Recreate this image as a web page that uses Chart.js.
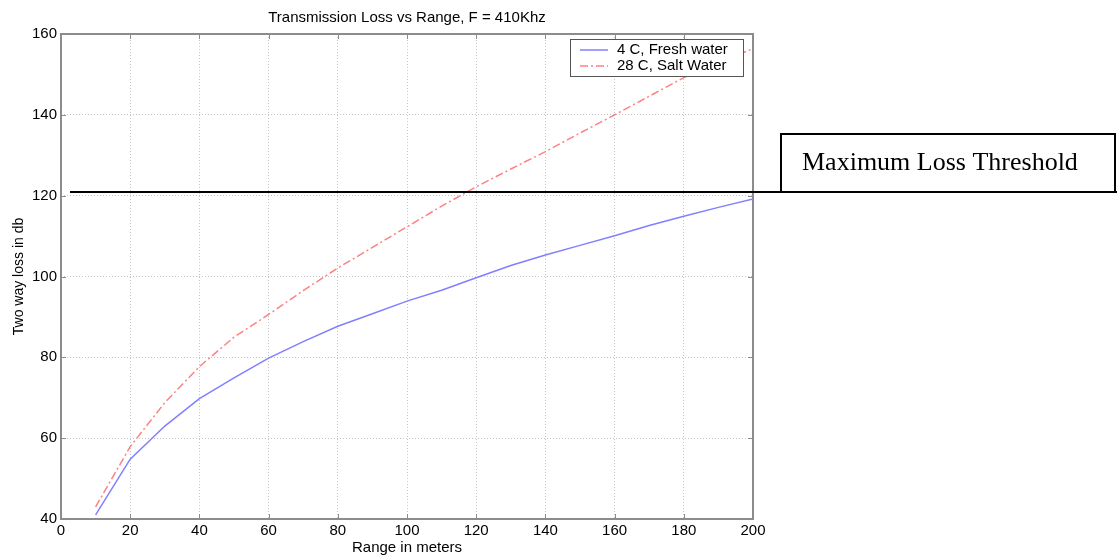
<!DOCTYPE html>
<html>
<head>
<meta charset="utf-8">
<script src="https://cdn.jsdelivr.net/npm/chart.js@4.4.1/dist/chart.umd.min.js"></script>
<style>
  html, body { margin: 0; padding: 0; background: #fff; }
  #wrap { width: 1117px; height: 557px; position: relative; }
</style>
</head>
<body>
<div id="wrap"><canvas id="lossChart"></canvas></div>
<script>
// range in meters
const ranges = [10, 20, 30, 40, 50, 60, 70, 80, 90, 100, 110, 120, 130, 140, 150, 160, 170, 180, 190, 200];
// two way loss (db)
const freshWater = [41.0, 54.8, 63.0, 69.8, 74.9, 79.8, 83.9, 87.7, 90.8, 93.9, 96.6, 99.7, 102.7, 105.3, 107.7, 110.1, 112.6, 114.9, 117.1, 119.2];
const saltWater = [43.0, 57.9, 68.8, 77.7, 85.0, 90.6, 96.5, 102.1, 107.2, 112.3, 117.4, 122.2, 126.6, 130.9, 135.5, 140.0, 144.6, 149.2, 152.8, 156.4];
const threshold = 121;
const thresholdLabel = 'Maximum Loss Threshold';

const font = 'Liberation Sans';
const ctx = document.getElementById('lossChart').getContext('2d');

function toPoints(values) {
    return ranges.map((r, i) => ({ x: r, y: values[i] }));
}

// plot frame + inward tick marks, matlab style
const frame = {
    id: 'frame',
    beforeDatasetsDraw(chart) {
        const { ctx, chartArea: a, scales } = chart;
        ctx.save();
        ctx.strokeStyle = '#8c8c8c';
        ctx.lineWidth = 1;
        scales.x.ticks.forEach(t => {
            const px = Math.round(scales.x.getPixelForValue(t.value)) + 0.5;
            ctx.beginPath();
            ctx.moveTo(px, a.bottom); ctx.lineTo(px, a.bottom - 5);
            ctx.moveTo(px, a.top); ctx.lineTo(px, a.top + 5);
            ctx.stroke();
        });
        scales.y.ticks.forEach(t => {
            const py = Math.round(scales.y.getPixelForValue(t.value)) + 0.5;
            ctx.beginPath();
            ctx.moveTo(a.left, py); ctx.lineTo(a.left + 5, py);
            ctx.moveTo(a.right, py); ctx.lineTo(a.right - 5, py);
            ctx.stroke();
        });
        ctx.lineWidth = 2;
        ctx.strokeRect(a.left, a.top, a.right - a.left, a.bottom - a.top);
        ctx.restore();
    }
};

const legendBox = {
    id: 'legendBox',
    afterDatasetsDraw(chart) {
        const { ctx, chartArea } = chart;
        const w = 173, h = 37;
        const x = chartArea.right - 10 - w;
        const y = chartArea.top + 5;
        ctx.save();
        ctx.fillStyle = '#fff';
        ctx.fillRect(x, y, w, h);
        ctx.strokeStyle = '#555';
        ctx.lineWidth = 1;
        ctx.strokeRect(x + 0.5, y + 0.5, w, h);
        ctx.font = '15px "' + font + '"';
        ctx.textBaseline = 'middle';
        chart.data.datasets.forEach((ds, i) => {
            const ly = y + 11 + i * 16;
            ctx.strokeStyle = ds.borderColor;
            ctx.lineWidth = ds.borderWidth;
            ctx.setLineDash(ds.borderDash || []);
            ctx.beginPath();
            ctx.moveTo(x + 10, ly);
            ctx.lineTo(x + 38, ly);
            ctx.stroke();
            ctx.setLineDash([]);
            ctx.fillStyle = '#000';
            ctx.fillText(ds.label, x + 47, ly);
        });
        ctx.restore();
    }
};

const thresholdLine = {
    id: 'thresholdLine',
    afterDraw(chart) {
        const { ctx, chartArea, scales } = chart;
        const ly = Math.round(scales.y.getPixelForValue(threshold));
        const bx = chartArea.right + 28;
        const bRight = chart.width - 2;
        ctx.save();
        ctx.strokeStyle = '#000';
        ctx.lineWidth = 2;
        ctx.beginPath();
        ctx.moveTo(chartArea.left + 9, ly);
        ctx.lineTo(chart.width, ly);
        ctx.stroke();
        ctx.beginPath();
        ctx.moveTo(bx, ly);
        ctx.lineTo(bx, ly - 58);
        ctx.lineTo(bRight, ly - 58);
        ctx.lineTo(bRight, ly);
        ctx.stroke();
        ctx.fillStyle = '#000';
        ctx.font = '26px "Liberation Serif"';
        ctx.textBaseline = 'alphabetic';
        ctx.fillText(thresholdLabel, bx + 21, ly - 22);
        ctx.restore();
    }
};

const myChart = new Chart(ctx, {
    type: 'line',
    data: {
        datasets: [{
            label: '4 C, Fresh water',
            data: toPoints(freshWater),
            borderColor: 'rgb(128,128,255)',
            borderWidth: 1.5,
            pointRadius: 0,
            tension: 0
        }, {
            label: '28 C, Salt Water',
            data: toPoints(saltWater),
            borderColor: 'rgb(255,128,128)',
            borderWidth: 1.5,
            borderDash: [8, 3, 2, 3],
            pointRadius: 0,
            tension: 0
        }]
    },
    options: {
        responsive: true,
        maintainAspectRatio: false,
        animation: false,
        layout: { padding: { top: 1, right: 364, bottom: 0, left: 0 } },
        plugins: {
            legend: { display: false },
            tooltip: { enabled: false },
            title: {
                display: true,
                text: 'Transmission Loss vs Range, F = 410Khz',
                color: '#000',
                fullSize: false,
                font: { family: font, size: 15, weight: 'normal' },
                padding: { top: 8, bottom: 7 }
            }
        },
        scales: {
            x: {
                type: 'linear',
                min: 0,
                max: 200,
                afterFit: s => { s.height = 38; },
                ticks: { stepSize: 20, color: '#000', padding: 3, font: { family: font, size: 15 } },
                grid: { color: '#c4c4c4', drawTicks: false },
                border: { display: false, dash: [1, 2] },
                title: {
                    display: true,
                    text: 'Range in meters',
                    color: '#000',
                    font: { family: font, size: 15 },
                    padding: { top: 0, bottom: 0 }
                }
            },
            y: {
                min: 40,
                max: 160,
                afterFit: s => { s.width = 61; },
                ticks: { stepSize: 20, color: '#000', padding: 4, font: { family: font, size: 15 } },
                grid: { color: '#c4c4c4', drawTicks: false },
                border: { display: false, dash: [1, 2] },
                title: {
                    display: true,
                    text: 'Two way loss in db',
                    color: '#000',
                    font: { family: font, size: 14 },
                    padding: { top: 11, bottom: 0 }
                }
            }
        }
    },
    plugins: [frame, legendBox, thresholdLine]
});
</script>
</body>
</html>
